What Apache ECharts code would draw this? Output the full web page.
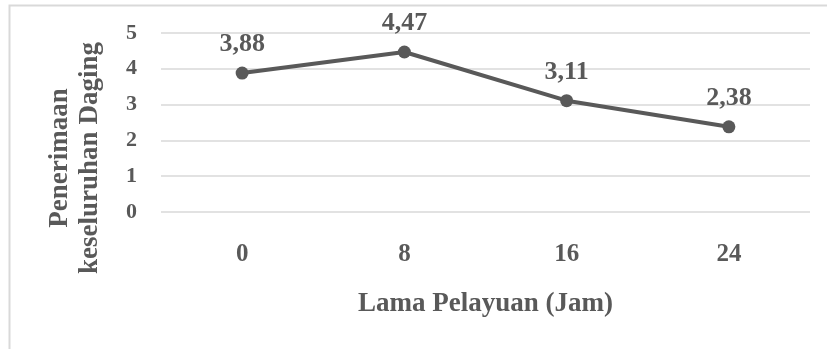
<!DOCTYPE html>
<html>
<head>
<meta charset="utf-8">
<script src="https://cdn.jsdelivr.net/npm/echarts@6/dist/echarts.min.js"></script>
<style>
  html, body { margin: 0; padding: 0; background: #fff; }
  #chart { width: 827px; height: 349px; }
</style>
</head>
<body>
<div id="chart"></div>
<script>
// Lama pelayuan (jam) dan skor penerimaan keseluruhan daging
const categories = ['0', '8', '16', '24'];
const penerimaan = [3.88, 4.47, 3.11, 2.38];
const yTicks = [0, 1, 2, 3, 4, 5];
const yTitle = 'Penerimaan\nkeseluruhan Daging';
const xTitle = 'Lama Pelayuan (Jam)';

const textColor = '#595959';
const serif = '"Liberation Serif", "Times New Roman", serif';

const chart = echarts.init(document.getElementById('chart'), null, { renderer: 'canvas' });

chart.setOption({
  backgroundColor: '#ffffff',
  animation: false,
  graphic: [{
    // outer chart frame
    type: 'rect',
    shape: { x: 9.5, y: 5.5, width: 830, height: 360 },
    style: { fill: 'none', stroke: '#d9d9d9', lineWidth: 2 },
    silent: true
  }, {
    // vertical axis title, two lines
    type: 'text',
    x: 75,
    y: 158,
    rotation: Math.PI / 2,
    silent: true,
    style: {
      text: yTitle,
      fill: textColor,
      font: 'bold 27px ' + serif,
      lineHeight: 30,
      align: 'center',
      verticalAlign: 'middle'
    }
  }],
  grid: { left: 161, right: 17, top: 33, bottom: 137 },
  xAxis: {
    type: 'category',
    data: categories,
    boundaryGap: true,
    axisLine: { show: false },
    axisTick: { show: false },
    axisLabel: {
      margin: 30,
      color: textColor,
      fontFamily: serif,
      fontWeight: 'bold',
      fontSize: 25
    },
    name: xTitle,
    nameLocation: 'middle',
    nameGap: 79,
    nameTextStyle: {
      color: textColor,
      fontFamily: serif,
      fontWeight: 'bold',
      fontSize: 27,
      verticalAlign: 'top'
    }
  },
  yAxis: {
    type: 'value',
    min: yTicks[0],
    max: yTicks[yTicks.length - 1],
    interval: 1,
    axisLine: { show: false },
    axisTick: { show: false },
    splitLine: { lineStyle: { color: '#d9d9d9', width: 1.5 } },
    axisLabel: {
      margin: 24,
      color: textColor,
      fontFamily: serif,
      fontWeight: 'bold',
      fontSize: 22,
      formatter: v => String(v)
    }
  },
  series: [{
    type: 'line',
    data: penerimaan,
    symbol: 'circle',
    symbolSize: 13,
    lineStyle: { color: '#595959', width: 4 },
    itemStyle: { color: '#595959' },
    label: {
      show: true,
      position: 'top',
      distance: 9,
      color: textColor,
      fontFamily: serif,
      fontWeight: 'bold',
      fontSize: 26,
      formatter: p => p.value.toFixed(2).replace('.', ',')
    }
  }]
});
</script>
</body>
</html>
